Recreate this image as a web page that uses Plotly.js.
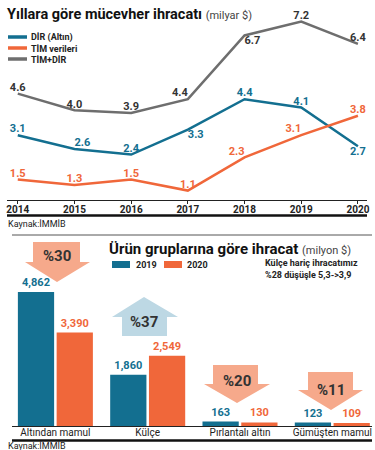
<!DOCTYPE html>
<html>
<head>
<meta charset="utf-8">
<script src="https://cdn.plot.ly/plotly-3.0.1.min.js"></script>
<style>html,body{margin:0;padding:0;background:#fff}#chart{width:375px;height:450px}</style>
</head>
<body>
<div id="chart"></div>
<script>
// ---- Data: line chart (milyar $) ----
const years = [2014, 2015, 2016, 2017, 2018, 2019, 2020];
const seriesNames = ["DİR (Altın)", "TİM verileri", "TİM+DİR"];
const dirAltin = [3.1, 2.6, 2.4, 3.3, 4.4, 4.1, 2.7];
const timVerileri = [1.5, 1.3, 1.5, 1.1, 2.3, 3.1, 3.8];
const timDir = [4.6, 4.0, 3.9, 4.4, 6.7, 7.2, 6.4];

// ---- Data: bar chart (milyon $) ----
const groups = ["Altından mamul", "Külçe", "Pırlantalı altın", "Gümüşten mamul"];
const barYears = ["2019", "2020"];
const v2019 = [4862, 1860, 163, 123];
const v2020 = [3390, 2549, 130, 109];
const changeLabels = ["%30", "%37", "%20", "%11"];
const noteLines = ["Külçe hariç ihracatımız", "%28 düşüşle 5,3->3,9"];

const BLUE = "#136f90", ORANGE = "#f0673a", GRAY = "#6e6e6e";
const SALMON = "#f6a98b", LIGHTBLUE = "#bdd8e4";
const FONT = "Liberation Sans Narrow, Roboto, Arial Narrow, sans-serif";

const W = 375, H = 450;
const X = p => p / W;
const Y = p => 1 - p / H;

const lbl = {family: FONT, size: 11, weight: 700};

const traces = [
  {x: years, y: dirAltin, name: seriesNames[0], type: "scatter", mode: "lines+text",
   line: {color: BLUE, width: 2.5}, text: dirAltin.map(v => v.toFixed(1)),
   textposition: ["top center","top right","top center","bottom right","top center","top center","bottom center"],
   textfont: Object.assign({color: BLUE}, lbl), cliponaxis: false, hoverinfo: "skip", xaxis: "x", yaxis: "y"},
  {x: years, y: timVerileri, name: seriesNames[1], type: "scatter", mode: "lines+text",
   line: {color: ORANGE, width: 2.5}, text: timVerileri.map(v => v.toFixed(1)),
   textposition: ["top center","top center","top center","top center","top left","top left","top center"],
   textfont: Object.assign({color: ORANGE}, lbl), cliponaxis: false, hoverinfo: "skip", xaxis: "x", yaxis: "y"},
  {x: years, y: timDir, name: seriesNames[2], type: "scatter", mode: "lines+text",
   line: {color: GRAY, width: 2.5}, text: timDir.map(v => v.toFixed(1)),
   textposition: ["top center","top center","top center","top left","bottom right","top center","top center"],
   textfont: Object.assign({color: "#333"}, lbl), cliponaxis: false, hoverinfo: "skip", xaxis: "x", yaxis: "y"},
  {x: groups, y: v2019, name: barYears[0], type: "bar", marker: {color: BLUE},
   texttemplate: "%{y:,}", textposition: "outside", textfont: {family: FONT, size: 11, weight: 700, color: BLUE},
   cliponaxis: false, hoverinfo: "skip", xaxis: "x2", yaxis: "y2"},
  {x: groups, y: v2020, name: barYears[1], type: "bar", marker: {color: ORANGE},
   texttemplate: "%{y:,}", textposition: "outside", textfont: {family: FONT, size: 11, weight: 700, color: ORANGE},
   cliponaxis: false, hoverinfo: "skip", xaxis: "x2", yaxis: "y2"}
];

function downArrow(sl, sr, t, hb, hl, hr, tx, ty) {
  return `M${X(sl)},${Y(t)} L${X(sr)},${Y(t)} L${X(sr)},${Y(hb)} L${X(hr)},${Y(hb)} L${X(tx)},${Y(ty)} L${X(hl)},${Y(hb)} L${X(sl)},${Y(hb)} Z`;
}

const shapes = [
  // top legend lines
  {type: "line", xref: "paper", yref: "paper", x0: X(8), x1: X(27), y0: Y(37), y1: Y(37), line: {color: BLUE, width: 3.5}},
  {type: "line", xref: "paper", yref: "paper", x0: X(8), x1: X(27), y0: Y(48), y1: Y(48), line: {color: ORANGE, width: 3.5}},
  {type: "line", xref: "paper", yref: "paper", x0: X(8), x1: X(27), y0: Y(59), y1: Y(59), line: {color: GRAY, width: 3.5}},
  // thick separator under line chart
  {type: "line", xref: "paper", yref: "paper", x0: X(7), x1: X(367), y0: Y(215.5), y1: Y(215.5), line: {color: "#111", width: 2.5}},
  // thin gray separator
  {type: "line", xref: "paper", yref: "paper", x0: X(12), x1: X(372), y0: Y(235), y1: Y(235), line: {color: "#555", width: 1}},
  // bottom thick line
  {type: "line", xref: "paper", yref: "paper", x0: X(12), x1: X(372), y0: Y(440.5), y1: Y(440.5), line: {color: "#111", width: 2.5}},
  // bar legend squares
  {type: "rect", xref: "paper", yref: "paper", x0: X(112), x1: X(130), y0: Y(268), y1: Y(261), fillcolor: BLUE, line: {width: 0}},
  {type: "rect", xref: "paper", yref: "paper", x0: X(164), x1: X(182), y0: Y(268), y1: Y(261), fillcolor: ORANGE, line: {width: 0}},
  // arrows
  {type: "path", xref: "paper", yref: "paper", path: downArrow(33, 80, 242, 262, 25, 90, 57, 282), fillcolor: SALMON, line: {width: 0}},
  {type: "path", xref: "paper", yref: "paper", path: downArrow(122, 167, 336, 317, 112, 178, 144, 297), fillcolor: LIGHTBLUE, line: {width: 0}},
  {type: "path", xref: "paper", yref: "paper", path: downArrow(213, 258, 365, 384, 204, 270, 237, 403), fillcolor: SALMON, line: {width: 0}},
  {type: "path", xref: "paper", yref: "paper", path: downArrow(308, 353, 372, 390, 298, 363, 331, 410), fillcolor: SALMON, line: {width: 0}}
];

function ann(text, x, y, opts) {
  return Object.assign({xref: "paper", yref: "paper", x: X(x), y: Y(y), text: text, showarrow: false,
    xanchor: "left", yanchor: "middle", font: {family: FONT, size: 10, color: "#222"}}, opts || {});
}

const annotations = [
  ann('<b>Yıllara göre mücevher ihracatı</b> <span style="font-size:11px;font-weight:400;color:#444">(milyar $)</span>', 5, 15,
      {font: {family: FONT, size: 14.5, color: "#111"}}),
  ann("<b>" + seriesNames[0] + "</b>", 29, 37, {font: {family: FONT, size: 9, color: "#222"}}),
  ann("<b>" + seriesNames[1] + "</b>", 29, 48, {font: {family: FONT, size: 9, color: "#222"}}),
  ann("<b>" + seriesNames[2] + "</b>", 29, 59, {font: {family: FONT, size: 9, color: "#222"}}),
  ann("Kaynak:İMMİB", 6, 224, {font: {family: FONT, size: 9, color: "#222"}}),
  ann('<b>Ürün gruplarına göre ihracat</b> <span style="font-size:11px;font-weight:400;color:#444">(milyon $)</span>', 107, 249,
      {font: {family: FONT, size: 15, color: "#111"}}),
  ann("<b>" + barYears[0] + "</b>", 134, 264.5, {font: {family: FONT, size: 9, color: "#222"}}),
  ann("<b>" + barYears[1] + "</b>", 185, 264.5, {font: {family: FONT, size: 9, color: "#222"}}),
  ann("<b>" + noteLines[0] + "</b>", 263, 263, {font: {family: FONT, size: 9, color: "#222"}}),
  ann("<b>" + noteLines[1] + "</b>", 263, 275, {font: {family: FONT, size: 9, color: "#222"}}),
  ann("<b>" + changeLabels[0] + "</b>", 57, 256, {xanchor: "center", font: {family: FONT, size: 15, color: "#333"}}),
  ann("<b>" + changeLabels[1] + "</b>", 144, 322, {xanchor: "center", font: {family: FONT, size: 15, color: "#333"}}),
  ann("<b>" + changeLabels[2] + "</b>", 237, 381, {xanchor: "center", font: {family: FONT, size: 15, color: "#333"}}),
  ann("<b>" + changeLabels[3] + "</b>", 331, 390, {xanchor: "center", font: {family: FONT, size: 15, color: "#333"}}),
  ann("Kaynak:İMMİB", 6, 446, {font: {family: FONT, size: 9, color: "#222"}})
];

const layout = {
  width: W, height: H, margin: {l: 0, r: 0, t: 0, b: 0},
  paper_bgcolor: "#fff", plot_bgcolor: "rgba(0,0,0,0)",
  showlegend: false, barmode: "group", bargap: 0.16, bargroupgap: 0.065,
  font: {family: FONT, color: "#222"},
  xaxis: {domain: [X(7), X(367)], range: [2013.81, 2020.16], tickvals: years, ticktext: years.map(String),
          showline: true, linecolor: "#222", linewidth: 1, ticks: "outside", ticklen: 3, tickcolor: "#222",
          ticklabelstandoff: -3,
          showgrid: false, zeroline: false, tickfont: {family: FONT, size: 10, weight: 700, color: "#222"}, fixedrange: true},
  yaxis: {domain: [Y(200), Y(10)], range: [0.76, 7.62], visible: false, fixedrange: true},
  xaxis2: {domain: [X(12), X(372)], range: [-0.47, 3.43], type: "category", anchor: "y2",
           showline: true, linecolor: "#222", linewidth: 1, ticks: "", showgrid: false, zeroline: false,
           ticklabelstandoff: -3,
           tickfont: {family: FONT, size: 10, color: "#222"}, fixedrange: true},
  yaxis2: {domain: [Y(426), Y(236)], range: [0, 6892], visible: false, fixedrange: true},
  shapes: shapes, annotations: annotations
};

Plotly.newPlot("chart", traces, layout, {displayModeBar: false, staticPlot: true});
</script>
</body>
</html>
